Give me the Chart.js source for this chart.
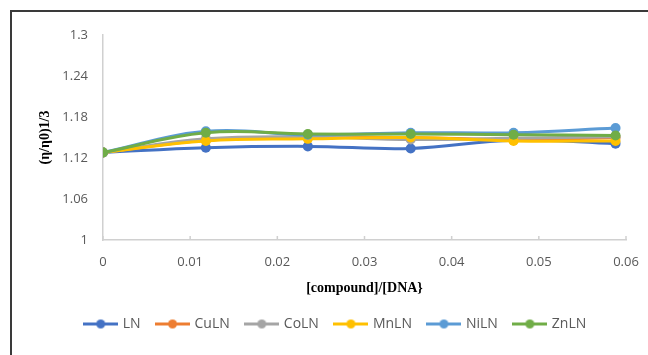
<!DOCTYPE html>
<html><head><meta charset="utf-8">
<script src="https://cdn.jsdelivr.net/npm/chart.js@4/dist/chart.umd.min.js"></script>
<style>
html,body{margin:0;padding:0;background:#fff;overflow:hidden}
#wrap{position:relative;width:648px;height:355px;overflow:hidden}
#frame{position:absolute;left:10px;top:10px;width:700px;height:420px;border:2px solid #3a3a3a;box-sizing:border-box}
canvas{position:absolute;left:0;top:0}
</style></head><body>
<div id="wrap"><div id="frame"></div><canvas id="c" width="648" height="355"></canvas></div>
<script>
// [compound]/[DNA] ratios
const ratio = [0, 0.0118, 0.0235, 0.0353, 0.0471, 0.0588];

// relative viscosity (η/η0)^1/3 for each compound
const LN   = [1.128, 1.135, 1.137, 1.134, 1.146, 1.141];
const CuLN = [1.128, 1.146, 1.150, 1.150, 1.147, 1.150];
const CoLN = [1.128, 1.148, 1.151, 1.147, 1.149, 1.151];
const MnLN = [1.128, 1.145, 1.148, 1.150, 1.145, 1.145];
const NiLN = [1.128, 1.159, 1.154, 1.157, 1.157, 1.164];
const ZnLN = [1.128, 1.157, 1.155, 1.155, 1.154, 1.153];

const seriesNames = ['LN', 'CuLN', 'CoLN', 'MnLN', 'NiLN', 'ZnLN'];
const seriesValues = [LN, CuLN, CoLN, MnLN, NiLN, ZnLN];
const seriesColors = ['#4472C4', '#ED7D31', '#A5A5A5', '#FFC000', '#5B9BD5', '#70AD47'];

const xTickValues = [0, 0.01, 0.02, 0.03, 0.04, 0.05, 0.06];
const xTickLabels = ['0', '0.01', '0.02', '0.03', '0.04', '0.05', '0.06'];
const yTickValues = [1, 1.06, 1.12, 1.18, 1.24, 1.3];
const yTickLabels = ['1', '1.06', '1.12', '1.18', '1.24', '1.3'];

const tickFont = { family: '"Open Sans", "Liberation Sans", sans-serif', size: 13 };
const legendFont = { family: '"Open Sans", "Liberation Sans", sans-serif', size: 14 };
const titleFont = { family: '"Liberation Serif", "Times New Roman", serif', size: 14, weight: 'bold' };
const axisGrey = '#d0d0d0';

// legend swatch: short line with a dot in the middle
function legendSwatch(color) {
  const c = document.createElement('canvas');
  c.width = 35; c.height = 11;
  const g = c.getContext('2d');
  g.strokeStyle = color; g.lineWidth = 3;
  g.beginPath(); g.moveTo(0, 5.5); g.lineTo(35, 5.5); g.stroke();
  g.fillStyle = color;
  g.beginPath(); g.arc(17.5, 5.5, 4.5, 0, Math.PI * 2); g.fill();
  return c;
}
const swatches = seriesColors.map(legendSwatch);

const datasets = seriesNames.map((name, i) => ({
  label: name,
  data: ratio.map((r, k) => ({ x: r, y: seriesValues[i][k] })),
  borderColor: seriesColors[i],
  backgroundColor: seriesColors[i],
  borderWidth: 3,
  pointRadius: 5,
  pointBorderWidth: 0,
  pointBackgroundColor: seriesColors[i],
  tension: 0.4,
  order: seriesNames.length - 1 - i
}));

// small tick marks standing up from the x axis
const innerTicks = {
  id: 'innerTicks',
  beforeDatasetsDraw(chart) {
    const xs = chart.scales.x, ctx = chart.ctx;
    ctx.save();
    ctx.strokeStyle = axisGrey; ctx.lineWidth = 1.5;
    xs.ticks.forEach(t => {
      const px = xs.getPixelForValue(t.value);
      ctx.beginPath(); ctx.moveTo(px, xs.top); ctx.lineTo(px, xs.top - 4); ctx.stroke();
    });
    ctx.restore();
  }
};

// nudge the legend row to the right
const legendOffset = {
  id: 'legendOffset',
  afterLayout(chart) {
    const lg = chart.legend;
    if (lg) { lg.left += 23; lg.right += 23; }
  }
};

new Chart(document.getElementById('c'), {
  type: 'line',
  data: { datasets },
  plugins: [innerTicks, legendOffset],
  options: {
    responsive: false,
    animation: false,
    devicePixelRatio: 1,
    layout: { padding: { left: 0, right: 22, top: 35, bottom: 14 } },
    plugins: {
      tooltip: { enabled: false },
      legend: {
        position: 'bottom',
        labels: {
          usePointStyle: true,
          pointStyleWidth: 30,
          padding: 17,
          color: '#595959',
          font: legendFont,
          sort: (a, b) => a.datasetIndex - b.datasetIndex,
          generateLabels(chart) {
            const items = Chart.defaults.plugins.legend.labels.generateLabels(chart);
            items.forEach(it => { it.pointStyle = swatches[it.datasetIndex]; });
            return items;
          }
        }
      }
    },
    scales: {
      x: {
        type: 'linear',
        min: 0, max: 0.06,
        afterBuildTicks(s) { s.ticks = xTickValues.map(v => ({ value: v })); },
        afterFit(s) { s.height = 60; s.paddingLeft = 0; s.paddingRight = 0; },
        grid: { display: false, drawTicks: false },
        border: { display: true, color: axisGrey, width: 1.5 },
        ticks: {
          padding: 14,
          color: '#595959',
          font: tickFont,
          maxRotation: 0,
          callback: (v, i) => xTickLabels[i]
        },
        title: { display: true, text: '[compound]/[DNA}', font: titleFont, color: '#000', padding: { top: 0, bottom: 3 } }
      },
      y: {
        min: 1, max: 1.3,
        afterBuildTicks(s) { s.ticks = yTickValues.map(v => ({ value: v })); },
        afterFit(s) { s.width = 103; },
        grid: { display: false, drawTicks: false },
        border: { display: true, color: axisGrey, width: 1.5 },
        ticks: {
          padding: 15,
          color: '#595959',
          font: tickFont,
          callback: (v, i) => yTickLabels[i]
        },
        title: { display: true, text: '(η/η0)1/3', font: titleFont, color: '#000', padding: { top: 37, bottom: 0 } }
      }
    }
  }
});
</script>
</body></html>
